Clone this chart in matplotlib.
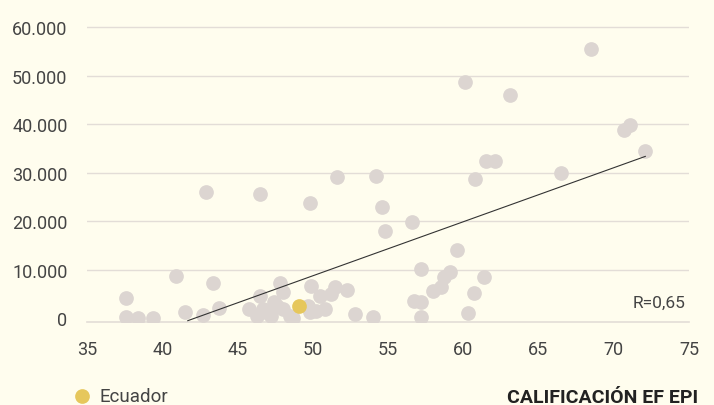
import matplotlib.pyplot as plt
from matplotlib.ticker import FuncFormatter
import numpy as np

# calificación EF EPI vs PIB per cápita
epi = [37.6, 37.6, 38.4, 39.4, 40.9, 41.5, 42.7, 43.4, 43.8, 42.9,
       45.8, 46.5, 46.5, 47.8, 48.0, 47.4, 46.7, 47.6, 48.0, 46.3,
       47.2, 48.5, 48.7, 49.8, 49.9, 49.7, 50.2, 50.5, 51.2, 51.5,
       52.3, 50.8, 49.8, 51.6, 52.8, 54.0, 54.6, 54.8, 54.2, 56.6,
       57.2, 56.7, 57.2, 57.2, 58.0, 58.5, 58.7, 59.1, 59.6, 61.4,
       60.7, 60.3, 60.1, 60.8, 61.5, 62.1, 63.1, 66.5, 68.5, 70.7,
       71.1, 72.1, 47.0]
pib = [4200, 250, 100, 100, 8700, 1400, 800, 7300, 2100, 26100,
       1900, 4600, 25600, 7300, 5400, 3300, 1950, 2600, 1950, 600,
       600, 600, 100, 23800, 6750, 2650, 1600, 4700, 5050, 6400,
       5950, 1950, 1300, 29100, 900, 250, 22900, 18000, 29350, 19800,
       10200, 3550, 3450, 250, 5700, 6400, 8500, 9650, 14100, 8600,
       5200, 1150, 48650, 28700, 32400, 32500, 46100, 30000, 55500, 38900,
       39900, 34500, 1200]
ecuador_epi = 49.1
ecuador_pib = 2500

# recta de tendencia
trend_x = [41.7, 72.1]
trend_y = [-450, 33400]
r_label = "R=0,65"

x_ticks = [35, 40, 45, 50, 55, 60, 65, 70, 75]
y_ticks = [0, 10000, 20000, 30000, 40000, 50000, 60000]

bg = '#fffdee'
gris = '#dcd5d1'
amarillo = '#e6c75c'
texto = '#444444'

plt.rcParams['font.family'] = ['Roboto', 'DejaVu Sans']

fig = plt.figure(figsize=(7.14, 4.06), dpi=100, facecolor=bg)
ax = fig.add_axes([0.1218, 0.2047, 0.8431, 0.7495], facecolor=bg)

ax.scatter(epi, pib, s=112, color=gris, linewidths=0, zorder=2)
ax.scatter([ecuador_epi], [ecuador_pib], s=112, color=amarillo, linewidths=0, zorder=3)
ax.plot(trend_x, trend_y, color='#333333', lw=0.8, zorder=4)

ax.set_xlim(35, 75)
ax.set_ylim(-700, 62000)
ax.set_xticks(x_ticks)
ax.set_yticks(y_ticks)
ax.yaxis.set_major_formatter(FuncFormatter(lambda v, p: f"{int(v):,}".replace(',', '.')))
ax.tick_params(length=0, labelsize=13, labelcolor=texto)
ax.tick_params(axis='y', pad=14)
ax.tick_params(axis='x', pad=13)

for v in y_ticks[1:]:
    ax.axhline(v, color='#e3ddd7', lw=1, zorder=1)
ax.axhline(-700, color='#e3ddd7', lw=1.2, zorder=1, clip_on=False)
for s in ax.spines.values():
    s.set_visible(False)

ax.text(74.8, 3300, r_label, ha='right', va='center', fontsize=12.5, color=texto)

# leyenda y título del eje
ax.scatter([0.115], [0.0215], s=112, color=amarillo, linewidths=0,
           transform=fig.transFigure, clip_on=False)
fig.text(0.14, 0.0215, 'Ecuador', ha='left', va='center', fontsize=13.5, color=texto)
fig.text(0.978, 0.0197, 'CALIFICACIÓN EF EPI', ha='right', va='center',
         fontsize=14, fontweight='bold', color='#222222')

fig.savefig('out.png', dpi=100, facecolor=bg)
